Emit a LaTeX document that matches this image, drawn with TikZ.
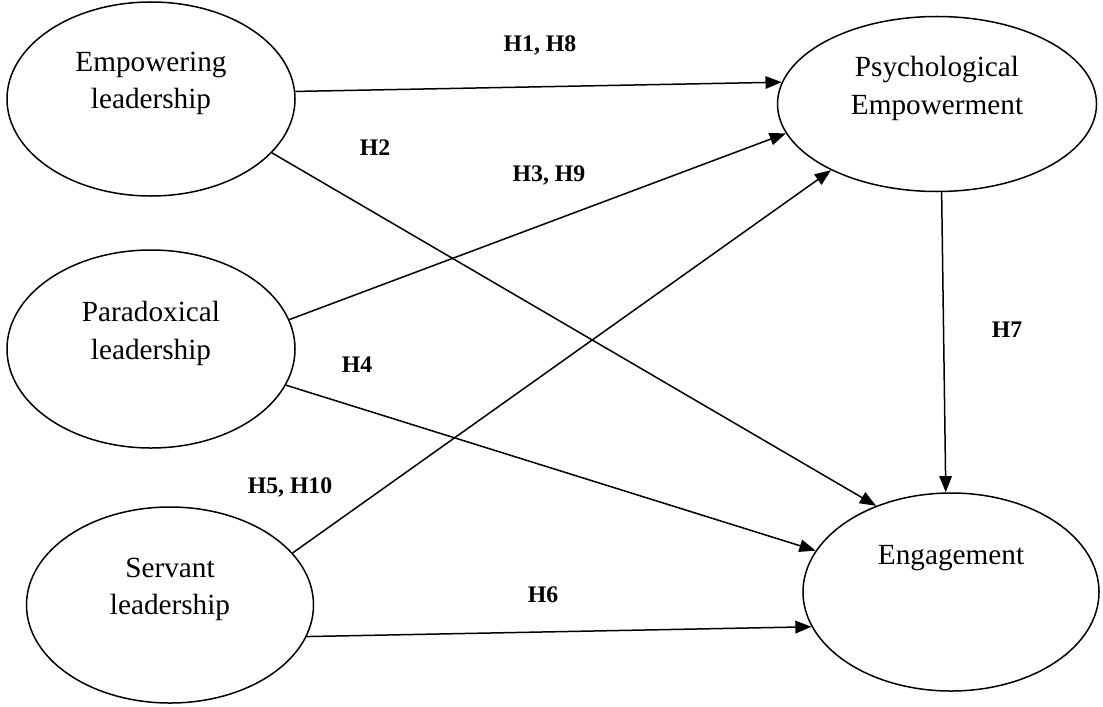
\documentclass[tikz,border=0pt]{standalone}
\usepackage{fontspec}
\setmainfont{Liberation Serif}
\usetikzlibrary{shapes.geometric,arrows.meta}

\begin{document}
\begin{tikzpicture}[
    x=0.4pt, y=-0.4pt,
    construct/.style={ellipse, draw=black, line width=0.6pt, align=center, inner sep=0pt, font=\fontsize{11.7}{15}\selectfont},
    hyp/.style={inner sep=1pt, font=\fontsize{9.5}{11}\selectfont\bfseries},
    arrow/.style={-{Triangle[length=6.5pt,width=5pt]}, line width=0.6pt},
]
\useasboundingbox (0,0) rectangle (1103,706);

% Leadership styles
\node[construct, minimum width=115.2pt, minimum height=77.6pt] (emp) at (151,99) {Empowering\\leadership\\~};
\node[construct, minimum width=115.2pt, minimum height=79.2pt] (par) at (151,349) {Paradoxical\\leadership\\~};
\node[construct, minimum width=114.8pt, minimum height=78.4pt] (ser) at (170,605) {Servant\\leadership\\~};

% Mediator and outcome
\node[construct, minimum width=127.6pt, minimum height=70pt] (psy) at (937,104) {Psychological\\Empowerment\\~};
\node[construct, minimum width=118.4pt, minimum height=79.2pt] (eng) at (951,592) {Engagement\\~\\~};

% Paths
\draw[arrow] (emp.3.2) -- (psy.172);
\draw[arrow] (emp.-24.8) -- (eng.131.2);
\draw[arrow] (par.12.7) -- (psy.191.2);
\draw[arrow] (par.-15.6) -- (eng.163.8);
\draw[arrow] (ser.23) -- (psy.212.8);
\draw[arrow] (ser.-13.9) -- (eng.194.8);
\draw[arrow] (psy.-87) -- (eng.93.5);

% Hypotheses
\node[hyp] (h18) at (540,45) {H1, H8};
\node[hyp] (h2) at (375,148) {H2};
\node[hyp] (h39) at (549,175) {H3, H9};
\node[hyp] (h4) at (357,365) {H4};
\node[hyp] (h510) at (290,487) {H5, H10};
\node[hyp] (h6) at (543,595) {H6};
\node[hyp] (h7) at (1007,330) {H7};

\end{tikzpicture}
\end{document}
